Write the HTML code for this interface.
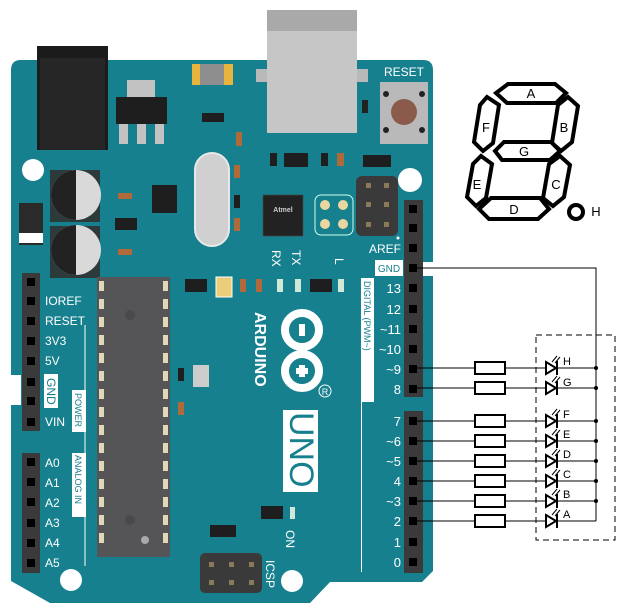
<!DOCTYPE html>
<html><head><meta charset="utf-8"><style>
html,body{margin:0;padding:0;background:#fff;}
svg{display:block;font-family:"Liberation Sans",sans-serif;}
</style></head><body>
<svg width="626" height="613" viewBox="0 0 626 613" xmlns="http://www.w3.org/2000/svg">
<path d="M21,60 L423,60 Q433,60 433,70 L433,571 L422,582 L330,582 L310,603 L50,603 L11,581 L11,70 Q11,60 21,60 Z" fill="#17808e"/>
<rect x="256" y="69" width="112" height="13" fill="#b9b9b9"/>
<rect x="267" y="10" width="90" height="123" fill="#c6c6c6"/>
<rect x="267" y="10" width="90" height="21" fill="#a9a9a9"/>
<rect x="37" y="46" width="71" height="104" fill="#1b1b1b"/>
<rect x="40" y="58" width="65" height="92" fill="#262626"/>
<rect x="127" y="80" width="28" height="18" fill="#c2c2c2"/>
<rect x="116" y="97" width="51" height="27" fill="#1e1e1e"/>
<rect x="119" y="124" width="9" height="20" fill="#c2c2c2"/><rect x="137" y="124" width="9" height="20" fill="#c2c2c2"/><rect x="155" y="124" width="9" height="20" fill="#c2c2c2"/>
<rect x="192" y="64" width="41" height="21" fill="#e7b53e"/><rect x="200" y="64" width="24" height="21" fill="#8e8e8e"/>
<rect x="202" y="113" width="22" height="9" fill="#1e1e1e"/>
<text x="404" y="76" fill="#fff" font-size="12" text-anchor="middle">RESET</text>
<rect x="380" y="82" width="48" height="62" fill="#b9b9b9"/>
<circle cx="404" cy="112" r="13" fill="#8a5a4a"/>
<circle cx="386" cy="94" r="3" fill="#222"/><circle cx="422" cy="94" r="3" fill="#222"/><circle cx="386" cy="130" r="3" fill="#222"/><circle cx="422" cy="130" r="3" fill="#222"/>
<rect x="362" y="100" width="6" height="13" fill="#222"/>
<circle cx="33" cy="170" r="11" fill="#fff"/><circle cx="410" cy="180" r="12" fill="#fff"/>
<circle cx="71" cy="580" r="11" fill="#fff"/><circle cx="292" cy="581" r="11" fill="#fff"/>
<rect x="50" y="170" width="50" height="52" fill="#2c3a3c"/><rect x="50" y="226" width="50" height="52" fill="#2c3a3c"/>
<circle cx="76" cy="195" r="25" fill="#d9d9d9"/><path d="M76,170 A25,25 0 0 0 76,220 Z" fill="#222"/>
<circle cx="76" cy="250" r="25" fill="#d9d9d9"/><path d="M76,225 A25,25 0 0 0 76,275 Z" fill="#222"/>
<rect x="19" y="203" width="24" height="42" fill="#2a2a2a"/><rect x="19" y="233" width="24" height="10" fill="#fff"/>
<rect x="152" y="185" width="25" height="28" fill="#1e1e1e"/>
<rect x="115" y="218" width="22" height="12" fill="#1e1e1e"/>
<rect x="118" y="193" width="14" height="6" fill="#b06a3a"/><rect x="118" y="249" width="14" height="6" fill="#b06a3a"/>
<rect x="195" y="153" width="34" height="93" rx="17" fill="#d0d0d0" stroke="#e8e8e8" stroke-width="2"/>
<rect x="234" y="165" width="6" height="13" fill="#b06a3a"/><rect x="234" y="195" width="6" height="13" fill="#1e1e1e"/><rect x="234" y="218" width="6" height="13" fill="#b06a3a"/>
<rect x="236" y="132" width="6" height="14" fill="#b06a3a"/>
<rect x="284" y="153" width="24" height="14" fill="#1e1e1e"/><rect x="270" y="153" width="7" height="13" fill="#1e1e1e"/>
<rect x="321" y="153" width="7" height="13" fill="#1e1e1e"/><rect x="337" y="153" width="7" height="13" fill="#b06a3a"/>
<rect x="363" y="155" width="28" height="12" fill="#1e1e1e"/>
<rect x="263" y="195" width="40" height="41" fill="#222" stroke="#444" stroke-dasharray="2 1"/>
<text x="283" y="212" fill="#ccc" font-size="7" text-anchor="middle" font-weight="bold">Atmel</text>
<rect x="315" y="195" width="38" height="40" rx="6" fill="none" stroke="#cfe" stroke-width="1"/>
<circle cx="325" cy="205" r="5" fill="#e8d7a0"/><circle cx="343" cy="205" r="5" fill="#e8d7a0"/><circle cx="325" cy="224" r="5" fill="#e8d7a0"/><circle cx="343" cy="224" r="5" fill="#e8d7a0"/>
<rect x="356" y="176" width="42" height="60" rx="6" fill="#3a3a3a"/>
<rect x="366" y="183" width="5" height="5" fill="#8a7a5a"/><rect x="384" y="183" width="5" height="5" fill="#8a7a5a"/><rect x="366" y="202" width="5" height="5" fill="#8a7a5a"/><rect x="384" y="202" width="5" height="5" fill="#8a7a5a"/><rect x="366" y="222" width="5" height="5" fill="#8a7a5a"/><rect x="384" y="222" width="5" height="5" fill="#8a7a5a"/>
<g font-size="12" fill="#fff">
<text transform="translate(272,250) rotate(90)">RX</text>
<text transform="translate(292,250) rotate(90)">TX</text>
<text transform="translate(335,258) rotate(90)">L</text>
</g>
<rect x="185" y="279" width="22" height="13" fill="#1e1e1e"/>
<rect x="216" y="277" width="16" height="20" fill="#eccd7a" stroke="#fff"/>
<rect x="240" y="279" width="6" height="13" fill="#b06a3a"/><rect x="256" y="279" width="6" height="13" fill="#b06a3a"/>
<rect x="277" y="279" width="6" height="13" fill="#cfe8d8"/><rect x="295" y="279" width="6" height="13" fill="#cfe8d8"/>
<rect x="310" y="279" width="22" height="13" fill="#1e1e1e"/><rect x="338" y="279" width="6" height="13" fill="#cfe8d8"/>
<rect x="97" y="277" width="73" height="280" fill="#555557"/>
<g fill="#e0d8b8">
<rect x="99" y="281" width="5" height="10"/><rect x="99" y="299" width="5" height="10"/><rect x="99" y="317" width="5" height="10"/><rect x="99" y="335" width="5" height="10"/><rect x="99" y="353" width="5" height="10"/><rect x="99" y="371" width="5" height="10"/><rect x="99" y="389" width="5" height="10"/><rect x="99" y="407" width="5" height="10"/><rect x="99" y="425" width="5" height="10"/><rect x="99" y="443" width="5" height="10"/><rect x="99" y="461" width="5" height="10"/><rect x="99" y="479" width="5" height="10"/><rect x="99" y="497" width="5" height="10"/><rect x="99" y="515" width="5" height="10"/><rect x="99" y="533" width="5" height="10"/>
<rect x="163" y="281" width="5" height="10"/><rect x="163" y="299" width="5" height="10"/><rect x="163" y="317" width="5" height="10"/><rect x="163" y="335" width="5" height="10"/><rect x="163" y="353" width="5" height="10"/><rect x="163" y="371" width="5" height="10"/><rect x="163" y="389" width="5" height="10"/><rect x="163" y="407" width="5" height="10"/><rect x="163" y="425" width="5" height="10"/><rect x="163" y="443" width="5" height="10"/><rect x="163" y="461" width="5" height="10"/><rect x="163" y="479" width="5" height="10"/><rect x="163" y="497" width="5" height="10"/><rect x="163" y="515" width="5" height="10"/><rect x="163" y="533" width="5" height="10"/>
</g>
<circle cx="130" cy="315" r="5" fill="#4a4a4c"/><circle cx="130" cy="520" r="5" fill="#4a4a4c"/><circle cx="145" cy="540" r="4" fill="#aaa"/>
<rect x="178" y="368" width="6" height="13" fill="#1e1e1e"/><rect x="193" y="365" width="16" height="22" fill="#ccc"/>
<rect x="178" y="402" width="6" height="13" fill="#b06a3a"/>
<text transform="translate(255,312) rotate(90)" fill="#fff" font-size="16" font-weight="bold">ARDUINO</text>
<circle cx="302" cy="330" r="17" fill="none" stroke="#fff" stroke-width="8"/>
<circle cx="302" cy="371" r="17" fill="none" stroke="#fff" stroke-width="8"/>
<rect x="299" y="324" width="6" height="12" fill="#fff"/>
<rect x="299" y="365" width="6" height="12" fill="#fff"/><rect x="296" y="368" width="12" height="6" fill="#fff"/>
<circle cx="325" cy="391" r="6" fill="none" stroke="#fff"/>
<text x="325" y="395" font-size="9" fill="#fff" text-anchor="middle">R</text>
<rect x="283" y="410" width="35" height="82" fill="#fff"/>
<text transform="translate(290,412) rotate(90)" fill="#17808e" font-size="34">UNO</text>
<rect x="261" y="506" width="22" height="13" fill="#1e1e1e"/><rect x="290" y="507" width="5" height="12" fill="#cfe8d8"/>
<text transform="translate(286,530) rotate(90)" fill="#fff" font-size="12">ON</text>
<rect x="210" y="525" width="26" height="12" fill="#1e1e1e"/>
<rect x="200" y="553" width="62" height="40" rx="5" fill="#3a3a3a"/>
<rect x="209" y="562" width="5" height="5" fill="#8a7a5a"/><rect x="229" y="562" width="5" height="5" fill="#8a7a5a"/><rect x="249" y="562" width="5" height="5" fill="#8a7a5a"/>
<rect x="209" y="580" width="5" height="5" fill="#8a7a5a"/><rect x="229" y="580" width="5" height="5" fill="#8a7a5a"/><rect x="249" y="580" width="5" height="5" fill="#8a7a5a"/>
<text transform="translate(266,560) rotate(90)" fill="#fff" font-size="12">ICSP</text>
<rect x="22" y="273" width="18" height="158" fill="#3a3a3a"/>
<rect x="22" y="453" width="18" height="120" fill="#3a3a3a"/>
<rect x="11" y="375" width="10" height="30" fill="#fff"/>
<g fill="#000">
<rect x="27" y="278" width="8" height="8"/><rect x="27" y="297" width="8" height="8"/><rect x="27" y="317" width="8" height="8"/><rect x="27" y="337" width="8" height="8"/><rect x="27" y="357" width="8" height="8"/><rect x="27" y="378" width="8" height="8"/><rect x="27" y="397" width="8" height="8"/><rect x="27" y="418" width="8" height="8"/>
<rect x="27" y="458" width="8" height="8"/><rect x="27" y="478" width="8" height="8"/><rect x="27" y="498" width="8" height="8"/><rect x="27" y="519" width="8" height="8"/><rect x="27" y="539" width="8" height="8"/><rect x="27" y="559" width="8" height="8"/>
</g>
<g fill="#fff" font-size="12">
<text x="45" y="305">IOREF</text><text x="45" y="325">RESET</text><text x="45" y="345">3V3</text><text x="45" y="365">5V</text><text x="45" y="426">VIN</text>
<text x="45" y="467">A0</text><text x="45" y="487">A1</text><text x="45" y="507">A2</text><text x="45" y="527">A3</text><text x="45" y="547">A4</text><text x="45" y="567">A5</text>
</g>
<rect x="44" y="374" width="14" height="34" fill="#fff"/>
<text transform="translate(47,378) rotate(90)" fill="#17808e" font-size="12">GND</text>
<line x1="85" y1="325" x2="85" y2="566" stroke="#fff" stroke-width="1"/>
<rect x="72" y="390" width="14" height="42" fill="#fff"/>
<text transform="translate(75,393) rotate(90)" fill="#17808e" font-size="9">POWER</text>
<rect x="72" y="453" width="14" height="64" fill="#fff"/>
<text transform="translate(75,455) rotate(90)" fill="#17808e" font-size="9">ANALOG IN</text>
<rect x="404" y="200" width="19" height="197" fill="#3a3a3a"/>
<rect x="404" y="411" width="19" height="162" fill="#3a3a3a"/>
<rect x="423" y="262" width="10" height="14" fill="#fff"/>
<g fill="#000">
<rect x="409" y="205" width="8" height="8"/><rect x="409" y="224" width="8" height="8"/><rect x="409" y="244" width="8" height="8"/><rect x="409" y="264" width="8" height="8"/><rect x="409" y="284" width="8" height="8"/><rect x="409" y="305" width="8" height="8"/><rect x="409" y="325" width="8" height="8"/><rect x="409" y="345" width="8" height="8"/><rect x="409" y="365" width="8" height="8"/><rect x="409" y="385" width="8" height="8"/>
<rect x="409" y="417" width="8" height="8"/><rect x="409" y="437" width="8" height="8"/><rect x="409" y="457" width="8" height="8"/><rect x="409" y="477" width="8" height="8"/><rect x="409" y="497" width="8" height="8"/><rect x="409" y="517" width="8" height="8"/><rect x="409" y="538" width="8" height="8"/><rect x="409" y="558" width="8" height="8"/>
</g>
<circle cx="398" cy="238" r="1.5" fill="#fff"/>
<text x="401" y="253" fill="#fff" font-size="12" text-anchor="end">AREF</text>
<rect x="375" y="260" width="28" height="16" fill="#fff"/>
<text x="389" y="272" fill="#17808e" font-size="10" text-anchor="middle">GND</text>
<rect x="361" y="278" width="13" height="124" fill="#fff"/>
<line x1="361.5" y1="400" x2="361.5" y2="572" stroke="#fff"/>
<text transform="translate(364,281) rotate(90)" fill="#17808e" font-size="9">DIGITAL   (PWM~)</text>
<g fill="#fff" font-size="13" text-anchor="end">
<text x="401" y="293">13</text><text x="401" y="314">12</text><text x="401" y="334">~11</text><text x="401" y="354">~10</text><text x="401" y="374">~9</text><text x="401" y="394">8</text>
<text x="401" y="426">7</text><text x="401" y="446">~6</text><text x="401" y="466">~5</text><text x="401" y="486">4</text><text x="401" y="506">~3</text><text x="401" y="526">2</text><text x="401" y="547">1</text><text x="401" y="567">0</text>
</g>
<rect x="536" y="335" width="79" height="205" fill="none" stroke="#000" stroke-dasharray="6 4"/>
<polyline points="413,268 596,268 596,521" fill="none" stroke="#000"/>
<g stroke="#000" stroke-width="1">
<line x1="413" y1="368" x2="596" y2="368"/><line x1="413" y1="388" x2="596" y2="388"/>
<line x1="413" y1="421" x2="596" y2="421"/><line x1="413" y1="441" x2="596" y2="441"/>
<line x1="413" y1="461" x2="596" y2="461"/><line x1="413" y1="481" x2="596" y2="481"/>
<line x1="413" y1="501" x2="596" y2="501"/><line x1="413" y1="521" x2="596" y2="521"/>
</g>
<g fill="#fff" stroke="#000" stroke-width="2">
<rect x="475" y="362" width="30" height="12"/><rect x="475" y="382" width="30" height="12"/>
<rect x="475" y="415" width="30" height="12"/><rect x="475" y="435" width="30" height="12"/>
<rect x="475" y="455" width="30" height="12"/><rect x="475" y="475" width="30" height="12"/>
<rect x="475" y="495" width="30" height="12"/><rect x="475" y="515" width="30" height="12"/>
</g>
<g fill="#fff" stroke="#000" stroke-width="2">
<path d="M546,362 L556,368 L546,374 Z M557,361 V375"/><path d="M546,382 L556,388 L546,394 Z M557,381 V395"/>
<path d="M546,415 L556,421 L546,427 Z M557,414 V428"/><path d="M546,435 L556,441 L546,447 Z M557,434 V448"/>
<path d="M546,455 L556,461 L546,467 Z M557,454 V468"/><path d="M546,475 L556,481 L546,487 Z M557,474 V488"/>
<path d="M546,495 L556,501 L546,507 Z M557,494 V508"/><path d="M546,515 L556,521 L546,527 Z M557,514 V528"/>
</g>
<g stroke="#000" stroke-width="1">
<path d="M552,362 l5,-6 M555,363 l5,-6"/><path d="M552,382 l5,-6 M555,383 l5,-6"/>
<path d="M552,415 l5,-6 M555,416 l5,-6"/><path d="M552,435 l5,-6 M555,436 l5,-6"/>
<path d="M552,455 l5,-6 M555,456 l5,-6"/><path d="M552,475 l5,-6 M555,476 l5,-6"/>
<path d="M552,495 l5,-6 M555,496 l5,-6"/><path d="M552,515 l5,-6 M555,516 l5,-6"/>
</g>
<g fill="#000">
<circle cx="596" cy="368" r="2"/><circle cx="596" cy="388" r="2"/><circle cx="596" cy="421" r="2"/><circle cx="596" cy="441" r="2"/><circle cx="596" cy="461" r="2"/><circle cx="596" cy="481" r="2"/><circle cx="596" cy="501" r="2"/>
</g>
<g font-size="11" fill="#000">
<text x="563" y="365">H</text><text x="563" y="386">G</text><text x="563" y="418">F</text><text x="563" y="438">E</text><text x="563" y="458">D</text><text x="563" y="478">C</text><text x="563" y="498">B</text><text x="563" y="518">A</text>
</g>
<g fill="#fff" stroke="#000" stroke-width="4" stroke-linejoin="miter">
<polygon points="508,84 555,84 566,93 556,103 507,103 496,93"/>
<polygon points="487,97 499,105 493,143 483,151 474,142 480,105"/>
<polygon points="568,97 578,106 572,142 561,151 552,143 558,105"/>
<polygon points="495,151 504,142 551,142 560,151 550,160 502,160"/>
<polygon points="481,156 492,164 486,198 476,206 467,197 473,164"/>
<polygon points="560,156 570,165 564,197 553,206 543,198 549,164"/>
<polygon points="491,198 540,198 549,209 538,219 489,219 479,209"/>
</g>
<circle cx="576" cy="212" r="7" fill="none" stroke="#000" stroke-width="4"/>
<g font-size="13" fill="#000" text-anchor="middle">
<text x="531" y="98">A</text><text x="486" y="132">F</text><text x="564" y="132">B</text><text x="524" y="156">G</text>
<text x="477" y="189">E</text><text x="556" y="189">C</text><text x="514" y="214">D</text>
<text x="596" y="216">H</text>
</g>
</svg>
</body></html>
